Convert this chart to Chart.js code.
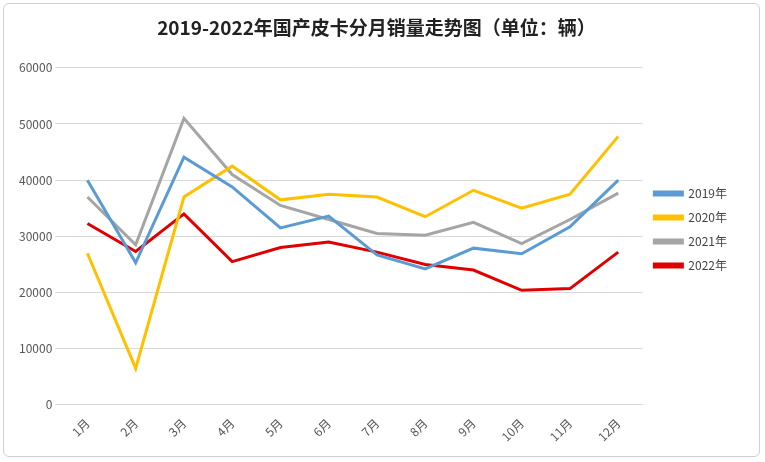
<!DOCTYPE html>
<html><head><meta charset="utf-8">
<script src="https://cdn.jsdelivr.net/npm/chart.js@4"></script>
<style>
body{margin:0;background:#fff;}
#wrap{position:absolute;left:3px;top:3px;width:757px;height:454px;border:1px solid #d0d0d0;border-radius:6px;box-sizing:border-box;}
</style></head><body>
<div id="wrap"><canvas id="c"></canvas></div>
<script>
const categories=["1月","2月","3月","4月","5月","6月","7月","8月","9月","10月","11月","12月"];
const s2019=[40000,25300,44100,38800,31500,33600,26700,24200,27900,26900,31700,40000];
const s2020=[27000,6500,37000,42500,36500,37500,37000,33500,38200,35000,37500,47800];
const s2021=[37000,28500,51000,41000,35500,33000,30500,30200,32500,28700,33000,37700];
const s2022=[32300,27300,34000,25500,28000,29000,27200,25000,24000,20400,20700,27200];
const names=["2019年","2020年","2021年","2022年"];
const colors=["#5b9bd5","#ffc000","#a5a5a5","#e00000"];
const F="'Noto Sans CJK SC', sans-serif";
new Chart(document.getElementById('c'),{type:'line',
data:{labels:categories,datasets:[s2019,s2020,s2021,s2022].map((d,i)=>({label:names[i],data:d,borderColor:colors[i],backgroundColor:colors[i],borderWidth:3,pointRadius:0,tension:0}))},
options:{responsive:true,maintainAspectRatio:false,animation:false,
layout:{padding:{left:12,right:22,top:8,bottom:9}},
plugins:{title:{display:true,text:'2019-2022年国产皮卡分月销量走势图（单位：辆）',font:{family:F,size:19,weight:'bold'},color:'#222',padding:{top:4,bottom:29}},
legend:{position:'right',labels:{boxWidth:28,boxHeight:3,font:{family:F,size:12},color:'#444',padding:12}}},
scales:{y:{min:0,max:60000,ticks:{stepSize:10000,callback:v=>String(v),font:{family:F,size:12},color:'#555'},grid:{color:'#d9d9d9'},border:{display:false}},
x:{offset:true,ticks:{maxRotation:45,minRotation:45,font:{family:F,size:12},color:'#555'},grid:{display:false},border:{color:'#d9d9d9'}}}}});
</script></body></html>
